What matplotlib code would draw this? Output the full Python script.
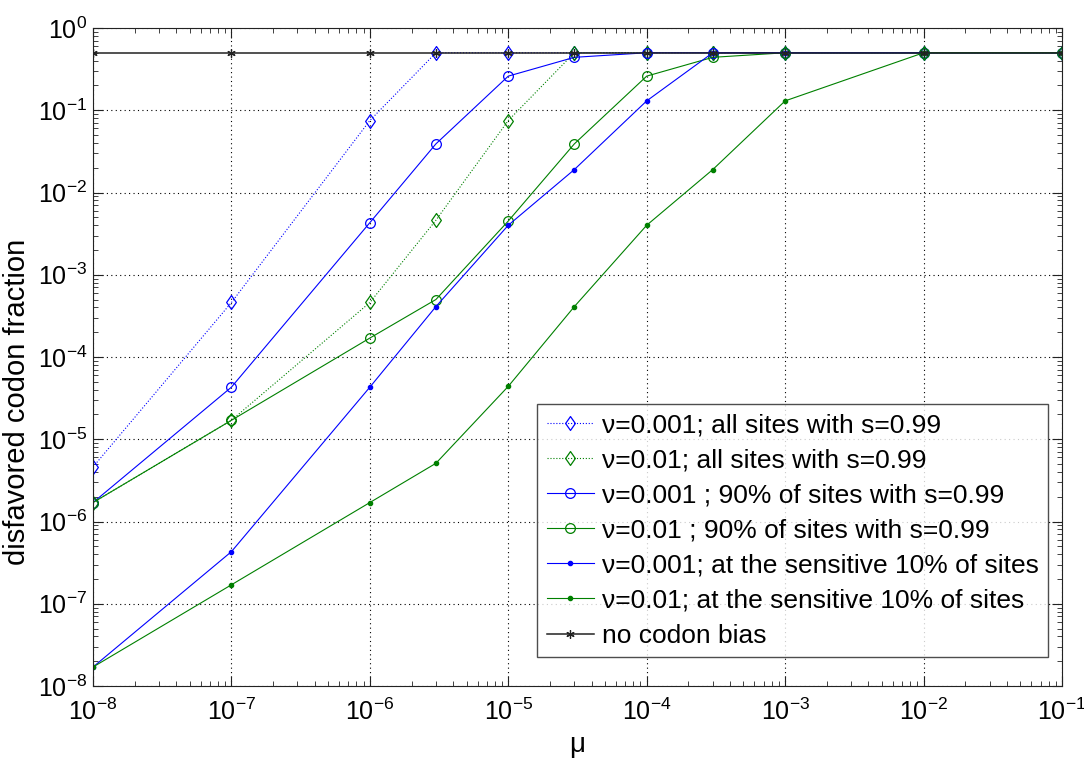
import matplotlib
matplotlib.use('agg')
import matplotlib.pyplot as plt
from matplotlib.path import Path
import numpy as np

mu = [1e-8, 1e-7, 1e-6, 3e-6, 1e-5, 3e-5, 1e-4, 3e-4, 1e-3, 1e-2, 1e-1]

# nu=0.001, all sites with s=0.99
all_001 = [4.6e-6, 4.6e-4, 0.075, 0.5, 0.5, 0.5, 0.5, 0.5, 0.5, 0.5, 0.5]
# nu=0.01, all sites with s=0.99
all_01 = [1.7e-6, 1.7e-5, 4.6e-4, 4.6e-3, 0.075, 0.5, 0.5, 0.5, 0.5, 0.5, 0.5]
# nu=0.001, 90% of sites
p90_001 = [1.7e-6, 4.3e-5, 4.3e-3, 0.039, 0.26, 0.44, 0.5, 0.5, 0.5, 0.5, 0.5]
# nu=0.01, 90% of sites
p90_01 = [1.7e-6, 1.7e-5, 1.7e-4, 5.0e-4, 4.5e-3, 0.039, 0.26, 0.44, 0.5, 0.5, 0.5]
# nu=0.001, sensitive 10%
s10_001 = [1.7e-8, 4.3e-7, 4.3e-5, 4.1e-4, 4.0e-3, 0.019, 0.13, 0.5, 0.5, 0.5, 0.5]
# nu=0.01, sensitive 10%
s10_01 = [1.7e-8, 1.7e-7, 1.7e-6, 5.1e-6, 4.4e-5, 4.1e-4, 4.0e-3, 0.019, 0.13, 0.5, 0.5]
no_bias = [0.5] * len(mu)

labels = [
    'ν=0.001; all sites with s=0.99',
    'ν=0.01; all sites with s=0.99',
    'ν=0.001 ; 90% of sites with s=0.99',
    'ν=0.01 ; 90% of sites with s=0.99',
    'ν=0.001; at the sensitive 10% of sites',
    'ν=0.01; at the sensitive 10% of sites',
    'no codon bias',
]

BLUE = '#0000ff'
GREEN = '#008000'

# matlab style diamond, a bit narrower than tall
DIAMOND = Path([(0, 1), (0.7, 0), (0, -1), (-0.7, 0), (0, 1)],
               [Path.MOVETO, Path.LINETO, Path.LINETO, Path.LINETO,
                Path.CLOSEPOLY])
ASTERISK = (6, 2, 0)


def main():
    plt.rcParams['font.family'] = ['Liberation Sans', 'DejaVu Sans']
    plt.rcParams['mathtext.default'] = 'regular'
    plt.rcParams['axes.edgecolor'] = '#222222'
    fig = plt.figure(figsize=(10.84, 7.61), dpi=100)
    ax = fig.add_axes([93 / 1084, 1 - 686 / 761, 969 / 1084, 658 / 761])

    lw = 0.8
    ax.plot(mu, all_001, ':', color=BLUE, marker=DIAMOND, ms=10, mfc='none',
            mec=BLUE, mew=0.9, lw=lw, label=labels[0])
    ax.plot(mu, all_01, ':', color=GREEN, marker=DIAMOND, ms=10, mfc='none',
            mec=GREEN, mew=0.9, lw=lw, label=labels[1])
    ax.plot(mu, p90_001, '-', color=BLUE, marker='o', ms=7, mfc='none',
            mec=BLUE, mew=0.9, lw=lw, label=labels[2])
    ax.plot(mu, p90_01, '-', color=GREEN, marker='o', ms=7, mfc='none',
            mec=GREEN, mew=0.9, lw=lw, label=labels[3])
    ax.plot(mu, s10_001, '-', color=BLUE, marker='.', ms=6, lw=lw,
            label=labels[4])
    ax.plot(mu, s10_01, '-', color=GREEN, marker='.', ms=6, lw=lw,
            label=labels[5])
    ax.plot(mu, no_bias, '-', color='#222222', marker=ASTERISK, ms=6,
            mew=0.9, lw=1.1, label=labels[6])

    ax.set_xscale('log')
    ax.set_yscale('log')
    ax.set_xlim(1e-8, 1e-1)
    ax.set_ylim(1e-8, 1e0)
    ax.set_xticks([10.0 ** k for k in range(-8, 0)])
    ax.set_yticks([10.0 ** k for k in range(-8, 1)])
    ax.grid(True, which='major', linestyle=(0, (1, 3)), color='black',
            lw=0.8)
    ax.tick_params(which='both', direction='in', top=True, right=True,
                   labelsize=18, color='#222222')
    ax.tick_params(which='major', length=7.5)
    ax.tick_params(which='minor', length=3.8)
    ax.tick_params(axis='x', pad=9)
    ax.tick_params(axis='y', pad=4)
    ax.set_xlabel('μ', fontsize=20, labelpad=5)
    ax.set_ylabel('disfavored codon fraction', fontsize=21)
    ax.yaxis.set_label_coords(-0.064, 0.432)

    leg = ax.legend(loc='lower right', bbox_to_anchor=(0.9856, 0.0441),
                    borderaxespad=0, fontsize=19, frameon=True,
                    fancybox=False, edgecolor='#222222', handlelength=1.8,
                    labelspacing=0.42, handletextpad=0.3, borderpad=0.35)
    leg.get_frame().set_linewidth(1.0)

    fig.savefig('out.png', dpi=100)


if __name__ == '__main__':
    main()
